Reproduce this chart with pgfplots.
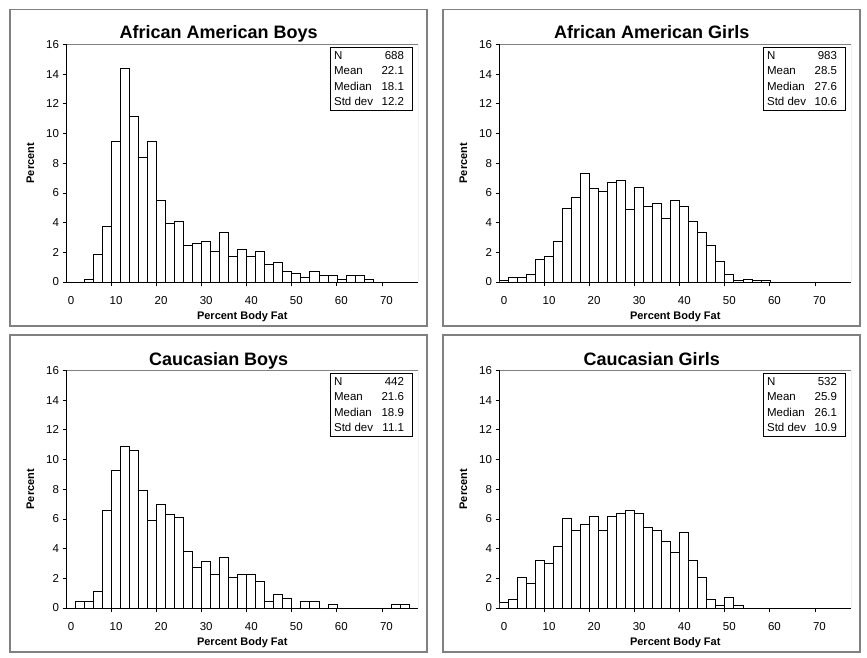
\documentclass[border=0pt]{standalone}
\usepackage{pgfplots}
\pgfplotsset{compat=1.18}
\usepackage{fontspec}
\setmainfont{Liberation Sans}

\definecolor{framegray}{RGB}{128,128,128}

\pgfplotsset{
  bfhist/.style={
    scale only axis, width=351.5pt, height=237.5pt, anchor=south west,
    xmin=-1, xmax=77, ymin=0, ymax=16,
    axis lines*=left, axis line style={-, black, line width=0.8pt},
    tick align=outside, tick pos=left, major tick length=4pt,
    tick style={black, line width=0.8pt},
    xtick={9,19,...,69}, xticklabels={},
    extra x ticks={0,10,...,70},
    extra x tick style={major tick length=0pt},
    ytick={0,2,...,16},
    /pgf/number format/assume math mode=true,
    ticklabel style={font=\fontsize{11.5}{13}\selectfont},
    xticklabel style={anchor=base, yshift=-22pt},
    xlabel={Percent Body Fat}, ylabel={Percent},
    label style={font=\fontsize{11}{13}\selectfont\bfseries},
    xlabel style={at={(axis description cs:0.5,0)}, anchor=base, yshift=-37pt},
    ylabel style={at={(axis description cs:0,0.5)}, anchor=center, yshift=36pt},
    title style={font=\fontsize{18}{20}\selectfont\bfseries,
      at={(axis description cs:0.5,1)}, anchor=base, yshift=-0.5pt, xshift=-23.5pt},
  },
  hbar/.style={ybar, bar width=2, bar shift=0pt, fill=white, draw=black, line width=0.7pt},
}

\newcommand{\statbox}[4]{%
  \node[draw=black, line width=1pt, fill=white, anchor=north east,
        inner xsep=0pt, inner ysep=0.8pt, xshift=-4.7pt, yshift=-2.7pt,
        font=\fontsize{11.5}{15.4}\selectfont]
    at (rel axis cs:1,1)
    {\begin{tabular}{@{\hspace{4pt}}l@{\hspace{8.5pt}}r@{\hspace{8.8pt}}}
      N & #1\\ Mean & #2\\ Median & #3\\ Std dev & #4
     \end{tabular}};
  \draw[framegray, line width=0.8pt] (rel axis cs:0,1) -- (rel axis cs:1,1) -- (rel axis cs:1,0);
}

\begin{document}
\begin{tikzpicture}
\useasboundingbox (0,0) rectangle (867pt,657pt);
\draw[framegray, line width=1.2pt] (10pt,647.5pt) rectangle (427pt,331pt);
\draw[framegray, line width=1.2pt] (443pt,647.5pt) rectangle (860pt,331pt);
\draw[framegray, line width=1.2pt] (10pt,322pt) rectangle (427pt,5pt);
\draw[framegray, line width=1.2pt] (443pt,322pt) rectangle (860pt,5pt);

% African American Boys
\begin{axis}[bfhist, at={(66.5pt,375pt)}, title={African American Boys}]
\addplot[hbar] coordinates {(4,0.15) (6,1.89) (8,3.78) (10,9.45) (12,14.39) (14,11.19)
  (16,8.43) (18,9.45) (20,5.52) (22,3.92) (24,4.07) (26,2.47) (28,2.62) (30,2.76)
  (32,2.08) (34,3.34) (36,1.74) (38,2.18) (40,1.74) (42,2.05) (44,1.16) (46,1.31)
  (48,0.73) (50,0.58) (52,0.29) (54,0.73) (56,0.44) (58,0.44) (60,0.15) (62,0.44)
  (64,0.44) (66,0.15)};
\statbox{688}{22.1}{18.1}{12.2}
\end{axis}

% African American Girls
\begin{axis}[bfhist, at={(499.5pt,375pt)}, title={African American Girls}]
\addplot[hbar] coordinates {(0,0.1) (2,0.31) (4,0.31) (6,0.51) (8,1.53) (10,1.73)
  (12,2.75) (14,4.98) (16,5.7) (18,7.32) (20,6.31) (22,6.1) (24,6.71) (26,6.82)
  (28,4.88) (30,6.41) (32,5.09) (34,5.29) (36,4.27) (38,5.49) (40,5.09) (42,4.07)
  (44,3.36) (46,2.44) (48,1.42) (50,0.51) (52,0.1) (54,0.2) (56,0.1) (58,0.1)};
\statbox{983}{28.5}{27.6}{10.6}
\end{axis}

% Caucasian Boys
\begin{axis}[bfhist, at={(66.5pt,49pt)}, title={Caucasian Boys}]
\addplot[hbar] coordinates {(2,0.45) (4,0.45) (6,1.13) (8,6.56) (10,9.28) (12,10.86)
  (14,10.63) (16,7.92) (18,5.88) (20,7.01) (22,6.33) (24,6.11) (26,3.85) (28,2.71)
  (30,3.17) (32,2.26) (34,3.39) (36,2.04) (38,2.26) (40,2.26) (42,1.81) (44,0.45)
  (46,0.9) (48,0.68) (52,0.45) (54,0.45) (58,0.23) (72,0.23) (74,0.23)};
\statbox{442}{21.6}{18.9}{11.1}
\end{axis}

% Caucasian Girls
\begin{axis}[bfhist, at={(499.5pt,49pt)}, title={Caucasian Girls}]
\addplot[hbar] coordinates {(0,0.38) (2,0.56) (4,2.07) (6,1.69) (8,3.2) (10,3.01)
  (12,4.14) (14,6.02) (16,5.26) (18,5.64) (20,6.2) (22,5.26) (24,6.2) (26,6.39)
  (28,6.58) (30,6.39) (32,5.45) (34,5.26) (36,4.51) (38,3.76) (40,5.08) (42,3.2)
  (44,2.07) (46,0.56) (48,0.19) (50,0.75) (52,0.19)};
\statbox{532}{25.9}{26.1}{10.9}
\end{axis}
\end{tikzpicture}
\end{document}
